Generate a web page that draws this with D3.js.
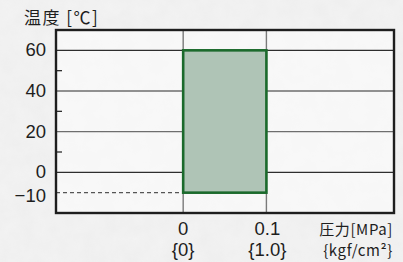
<!DOCTYPE html>
<html>
<head>
<meta charset="utf-8">
<script src="https://cdn.jsdelivr.net/npm/d3@7"></script>
<style>
  html, body { margin: 0; padding: 0; background: #ececec; }
  svg text { font-family: "Liberation Sans", "Noto Sans", sans-serif; fill: #1e1e1e; }
</style>
</head>
<body>
<div id="chart"></div>
<script>
// chart values
var yTicks = [60, 40, 20, 0];
var yTickLabels = ["60", "40", "20", "0", "\u221210"];
var yLabelValues = [60, 40, 20, 0, -10];
var yMinorTicks = [50, 30, 10];
var xTicks = [0, 0.1];
var xTickLabels = ["0", "0.1"];
var xTickLabels2 = ["{0}", "{1.0}"];
var rangeTemp = [-10, 60];   // working temperature range
var rangePress = [0, 0.1];   // working pressure range

var width = 403;
var height = 262;

var margin = {
   top: 30,
   left: 56,
   bottom: 49,
   right: 9
};

var svg = d3.select("#chart")
   .append("svg")
   .attr("width", width)
   .attr("height", height);

// paper-ish texture
var defs = svg.append("defs");
var f = defs.append("filter").attr("id", "paper").attr("x", 0).attr("y", 0).attr("width", "100%").attr("height", "100%");
f.append("feTurbulence").attr("type", "fractalNoise").attr("baseFrequency", 0.06).attr("numOctaves", 3).attr("seed", 4);
f.append("feColorMatrix").attr("type", "matrix")
   .attr("values", "0 0 0 0 0.55  0 0 0 0 0.55  0 0 0 0 0.55  0 0 0 0.35 0");
svg.append("rect").attr("width", width).attr("height", height).attr("fill", "#f3f3f3");
svg.append("rect").attr("width", width).attr("height", height).attr("filter", "url(#paper)").attr("opacity", 0.3);

var xScale = d3.scaleLinear()
   .domain([-0.1528, 0.2533])
   .range([margin.left, width - margin.right]);

var yScale = d3.scaleLinear()
   .domain([-20, 70])
   .range([height - margin.bottom, margin.top]);

var x0 = xScale.range()[0], x1 = xScale.range()[1];
var y0 = yScale.range()[0], y1 = yScale.range()[1];

// plot background
svg.append("rect")
   .attr("x", x0).attr("y", y1)
   .attr("width", x1 - x0).attr("height", y0 - y1)
   .attr("fill", "#fafafa").attr("opacity", 0.75);

// horizontal grid
svg.selectAll(".hgrid")
   .data(yTicks)
   .enter().append("line")
   .attr("class", "hgrid")
   .attr("x1", x0).attr("x2", x1)
   .attr("y1", function (d) { return yScale(d); })
   .attr("y2", function (d) { return yScale(d); })
   .attr("stroke", function (d) { return (d === 40 || d === 20) ? "#6e6e6e" : "#2e2e2e"; })
   .attr("stroke-width", 1.3);

// vertical grid
svg.selectAll(".vgrid")
   .data(xTicks)
   .enter().append("line")
   .attr("class", "vgrid")
   .attr("x1", function (d) { return xScale(d); })
   .attr("x2", function (d) { return xScale(d); })
   .attr("y1", y1).attr("y2", y0)
   .attr("stroke", "#7a7a7a")
   .attr("stroke-width", 1.4);

// dashed -10 line
svg.append("line")
   .attr("x1", x0).attr("x2", xScale(rangePress[0]))
   .attr("y1", yScale(rangeTemp[0])).attr("y2", yScale(rangeTemp[0]))
   .attr("stroke", "#555")
   .attr("stroke-width", 1.1)
   .attr("stroke-dasharray", "4,3");

// minor ticks inside left edge
svg.selectAll(".minor")
   .data(yMinorTicks)
   .enter().append("line")
   .attr("x1", x0).attr("x2", x0 + 6)
   .attr("y1", function (d) { return yScale(d); })
   .attr("y2", function (d) { return yScale(d); })
   .attr("stroke", "#2e2e2e")
   .attr("stroke-width", 1.3);

// operating range box
svg.append("rect")
   .attr("x", xScale(rangePress[0]))
   .attr("y", yScale(rangeTemp[1]))
   .attr("width", xScale(rangePress[1]) - xScale(rangePress[0]))
   .attr("height", yScale(rangeTemp[0]) - yScale(rangeTemp[1]))
   .attr("fill", "#afc4b6")
   .attr("stroke", "#1b6a2c")
   .attr("stroke-width", 2.6);

// frame
svg.append("rect")
   .attr("x", x0).attr("y", y1)
   .attr("width", x1 - x0).attr("height", y0 - y1)
   .attr("fill", "none")
   .attr("stroke", "#1e1e1e")
   .attr("stroke-width", 2.4);

// y labels
svg.selectAll(".ylab")
   .data(yLabelValues)
   .enter().append("text")
   .attr("x", 46)
   .attr("y", function (d) { return yScale(d) + 6 + (d === -10 ? 3 : 0); })
   .attr("text-anchor", "end")
   .attr("font-size", 18.5)
   .text(function (d, i) { return yTickLabels[i]; });

// x labels
svg.selectAll(".xlab")
   .data(xTicks)
   .enter().append("text")
   .attr("x", function (d) { return xScale(d) + (d > 0 ? 1 : 0); })
   .attr("y", 235)
   .attr("text-anchor", "middle")
   .attr("font-size", 18.5)
   .text(function (d, i) { return xTickLabels[i]; });

svg.selectAll(".xlab2")
   .data(xTicks)
   .enter().append("text")
   .attr("x", function (d) { return xScale(d) + (d > 0 ? 1 : 0); })
   .attr("y", 256)
   .attr("text-anchor", "middle")
   .attr("font-size", 18.5)
   .text(function (d, i) { return xTickLabels2[i]; });

// axis titles
svg.append("text")
   .attr("x", 24).attr("y", 24)
   .attr("font-size", 17)
   .attr("letter-spacing", 1.5)
   .style("font-family", "'Noto Sans CJK JP', sans-serif")
   .text("温度 [℃]");

svg.append("text")
   .attr("x", 393).attr("y", 235)
   .attr("text-anchor", "end")
   .attr("font-size", 15)
   .attr("letter-spacing", 0.6)
   .style("font-family", "'Noto Sans CJK JP', sans-serif")
   .text("圧力[MPa]");

svg.append("text")
   .attr("x", 393).attr("y", 256)
   .attr("text-anchor", "end")
   .attr("font-size", 15)
   .attr("letter-spacing", 0.6)
   .style("font-family", "'Noto Sans CJK JP', sans-serif")
   .text("{kgf/cm²}");
</script>
</body>
</html>
